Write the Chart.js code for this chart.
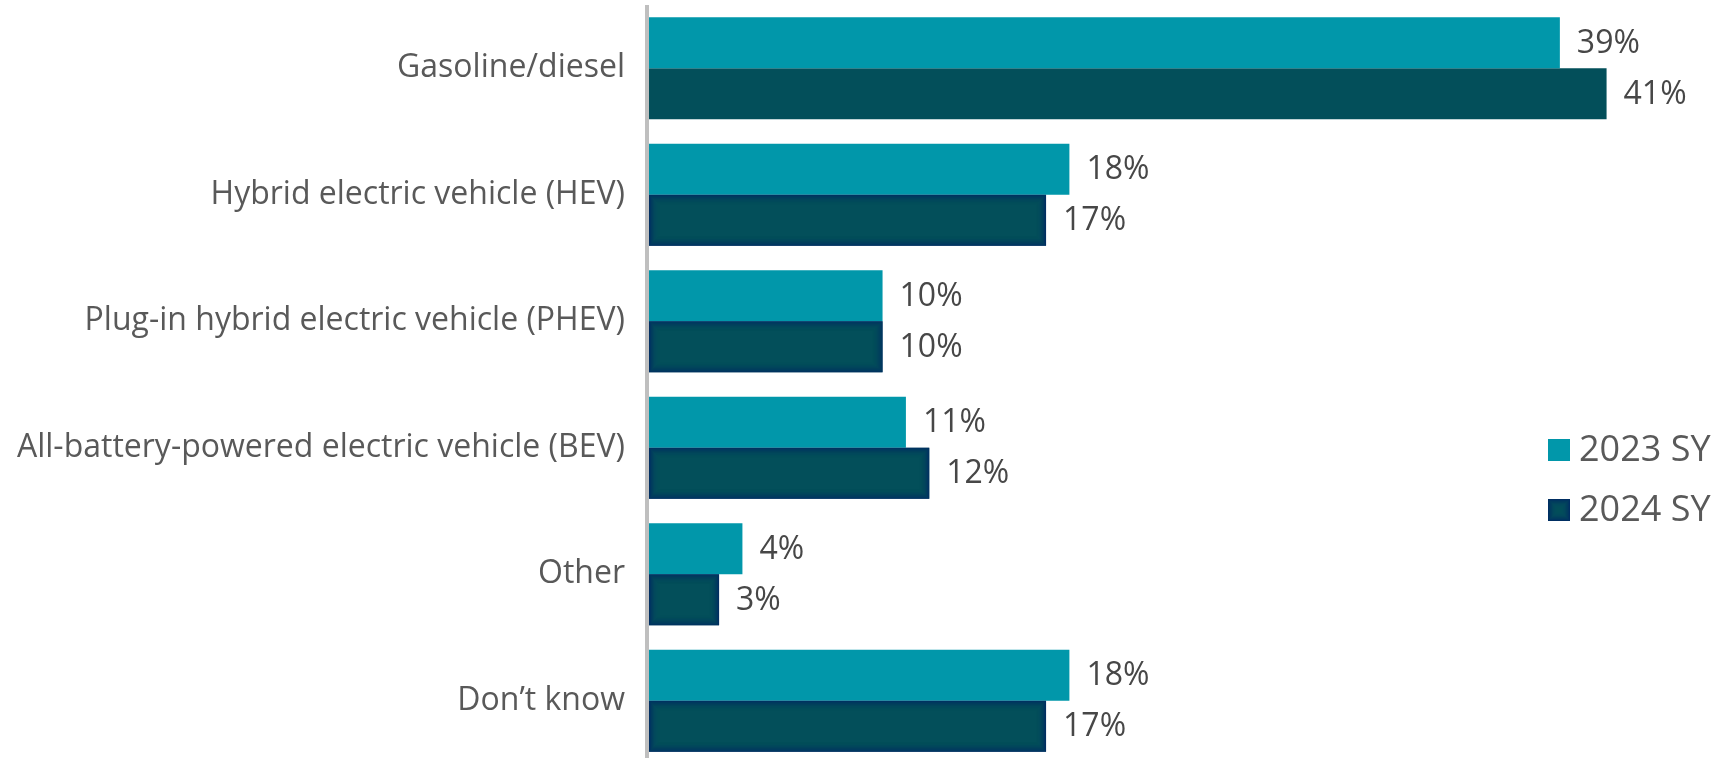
<!DOCTYPE html>
<html>
<head>
<meta charset="utf-8">
<title>Vehicle type</title>
<script src="https://cdn.jsdelivr.net/npm/chart.js@4.4.1/dist/chart.umd.min.js"></script>
<style>
  html, body { margin: 0; padding: 0; overflow: hidden; background: #fff; }
  #wrap { position: relative; width: 1718px; height: 764px; }
</style>
</head>
<body>
<div id="wrap"><canvas id="fuelChart"></canvas></div>
<script>
const categories = [
  "Gasoline/diesel",
  "Hybrid electric vehicle (HEV)",
  "Plug-in hybrid electric vehicle (PHEV)",
  "All-battery-powered electric vehicle (BEV)",
  "Other",
  "Don’t know"
];
const sy2023 = [39, 18, 10, 11, 4, 18];
const sy2024 = [41, 17, 10, 12, 3, 17];
const seriesLabels = ["2023 SY", "2024 SY"];

const FONT = "'Open Sans', 'Noto Sans', sans-serif";
const teal = "#0197AA";
const darkTeal = "#034F5A";

// soft navy edge inside a rectangle
function glowRect(ctx, left, top, w, h) {
  const steps = 11;
  ctx.save();
  ctx.lineWidth = 1;
  for (let i = 0; i < steps; i++) {
    if (w - 2 * i <= 1 || h - 2 * i <= 1) break;
    const a = 0.85 * Math.pow(1 - i / steps, 2.5);
    ctx.strokeStyle = "rgba(0, 40, 100, " + a + ")";
    ctx.strokeRect(left + i + 0.5, top + i + 0.5, w - 2 * i - 1, h - 2 * i - 1);
  }
  ctx.restore();
}

const axisLine = {
  id: "axisLine",
  beforeDatasetsDraw(chart) {
    const { ctx, chartArea } = chart;
    ctx.save();
    ctx.strokeStyle = "#BFBFBF";
    ctx.lineWidth = 4;
    ctx.beginPath();
    ctx.moveTo(chartArea.left - 2, chartArea.top);
    ctx.lineTo(chartArea.left - 2, chartArea.bottom);
    ctx.stroke();
    ctx.restore();
  }
};

const barGlow = {
  id: "barGlow",
  afterDatasetsDraw(chart, args, opts) {
    const meta = chart.getDatasetMeta(1);
    meta.data.forEach((bar, i) => {
      if (opts.skip.includes(i)) return;
      const p = bar.getProps(["x", "y", "base", "height"], true);
      const left = Math.min(p.base, p.x);
      const w = Math.abs(p.x - p.base);
      glowRect(chart.ctx, left, p.y - p.height / 2, w, p.height);
    });
  }
};

const valueLabels = {
  id: "valueLabels",
  afterDatasetsDraw(chart) {
    const { ctx } = chart;
    ctx.save();
    ctx.font = "32px " + FONT;
    ctx.fillStyle = "#474747";
    ctx.textAlign = "left";
    ctx.textBaseline = "middle";
    chart.data.datasets.forEach((ds, d) => {
      chart.getDatasetMeta(d).data.forEach((bar, i) => {
        const p = bar.getProps(["x", "y"], true);
        ctx.fillText(ds.data[i] + "%", p.x + 17, p.y + 1);
      });
    });
    ctx.restore();
  }
};

const sideLegend = {
  id: "sideLegend",
  afterDraw(chart) {
    const { ctx } = chart;
    const box = 22;
    const x = 1548;
    const rows = [450, 510];
    ctx.save();
    ctx.font = "36px " + FONT;
    ctx.textBaseline = "middle";
    chart.data.datasets.forEach((ds, d) => {
      const cy = rows[d];
      ctx.fillStyle = ds.backgroundColor;
      ctx.fillRect(x, cy - box / 2, box, box);
      if (d === 1) glowRect(ctx, x, cy - box / 2, box, box);
      ctx.fillStyle = "#595959";
      ctx.fillText(ds.label, x + box + 9, cy + 1);
    });
    ctx.restore();
  }
};

new Chart(document.getElementById("fuelChart"), {
  type: "bar",
  data: {
    labels: categories,
    datasets: [
      {
        label: seriesLabels[0],
        data: sy2023,
        backgroundColor: teal,
        borderWidth: 0,
        barPercentage: 1,
        categoryPercentage: 0.807
      },
      {
        label: seriesLabels[1],
        data: sy2024,
        backgroundColor: darkTeal,
        borderWidth: 0,
        barPercentage: 1,
        categoryPercentage: 0.807
      }
    ]
  },
  options: {
    indexAxis: "y",
    responsive: true,
    maintainAspectRatio: false,
    animation: false,
    layout: { padding: { top: 5, right: 18, left: 0, bottom: 0 } },
    plugins: {
      legend: { display: false },
      tooltip: { enabled: false },
      barGlow: { skip: [0] }
    },
    scales: {
      x: { display: false, min: 0, max: 45 },
      y: {
        grid: { display: false, drawTicks: false },
        border: { display: false },
        ticks: {
          autoSkip: false,
          padding: 24,
          color: "#595959",
          font: { family: FONT, size: 32 }
        },
        afterFit(scale) {
          scale.width = 649;
          scale.paddingTop = 0;
          scale.paddingBottom = 0;
        }
      }
    }
  },
  plugins: [axisLine, barGlow, valueLabels, sideLegend]
});
</script>
</body>
</html>
